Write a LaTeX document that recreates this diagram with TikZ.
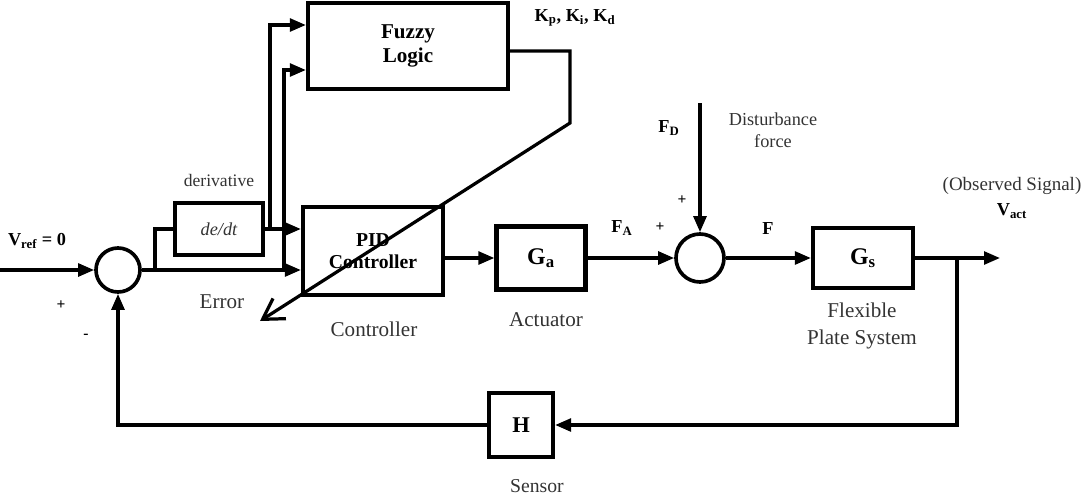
\documentclass[tikz,border=0pt]{standalone}
\usepackage{fontspec}
\setmainfont{Liberation Serif}
\usetikzlibrary{arrows.meta}
\begin{document}
\begin{tikzpicture}[x=0.025cm,y=-0.025cm,
    block/.style={draw,line width=3pt,inner sep=0pt,align=center,
      font=\bfseries\fontsize{14}{16}\selectfont},
    sum/.style={draw,circle,line width=2.6pt,minimum size=1.1cm,inner sep=0pt},
    wire/.style={line width=2.3pt},
    sig/.style={wire,-{Triangle[length=4mm,width=3.2mm]}},
    lbl/.style={text=black!80,align=center,font=\fontsize{15}{19}\selectfont},
    var/.style={font=\bfseries\fontsize{13}{15}\selectfont}]
  \useasboundingbox (0,0) rectangle (1081,495);
  % blocks
  \node[sum] (Sum1) at (118,270) {};
  \node[block,line width=2.4pt,minimum width=2.2cm,minimum height=1.3cm,
    text=black!80,font=\itshape\fontsize{13}{15}\selectfont] (Deriv) at (219,229) {de/dt};
  \node[block,minimum width=3.5cm,minimum height=2.2cm] (PID) at (373,251) {PID\\Controller};
  \node[block,minimum width=5cm,minimum height=2.15cm,
    font=\bfseries\fontsize{15}{17}\selectfont] (Fuzzy) at (408,46) {Fuzzy\\Logic};
  \node[block,minimum width=2.225cm,minimum height=1.575cm,
    font=\bfseries\fontsize{17}{19}\selectfont] (Ga) at (541,258) {G\textsubscript{a}};
  \node[sum,minimum size=1.2cm] (Sum2) at (700,258) {};
  \node[block,minimum width=2.5cm,minimum height=1.5cm,
    font=\bfseries\fontsize{17}{19}\selectfont] (Gs) at (863,258) {G\textsubscript{s}};
  \node[block,minimum width=1.6cm,minimum height=1.6cm,
    font=\bfseries\fontsize{16}{18}\selectfont] (H) at (521,425) {H};
  % branch points
  \coordinate (In) at (0,270);
  \coordinate (Br1) at (155,270);
  \coordinate (Br2) at (270,229);
  \coordinate (Br3) at (284,270);
  \coordinate (K1) at (570,51);
  \coordinate (K2) at (570,123);
  \coordinate (KTip) at (260,321);
  \coordinate (FD) at (700,103);
  \coordinate (Br4) at (957,258);
  \coordinate (Out) at (1000,258);
  % connectors
  \draw[sig] (In) -- (Sum1);
  \draw[wire] (Sum1) -- (Br1) |- (Deriv);
  \draw[sig] (Br1) -- (PID.west |- Br1);
  \draw[sig] (Deriv) -- (PID.west |- Deriv);
  \draw[sig] (Br2) |- (Fuzzy.west |- 0,25);
  \draw[sig] (Br3) |- (Fuzzy.west |- 0,70);
  \draw[wire,-{Straight Barb[length=5mm,width=6mm]}]
    (Fuzzy.east |- K1) -- (K1) -- (K2) -- (KTip);
  \draw[sig] (PID.east |- Ga) -- (Ga);
  \draw[sig] (Ga) -- (Sum2);
  \draw[sig] (FD) -- (Sum2);
  \draw[sig] (Sum2) -- (Gs);
  \draw[sig] (Gs) -- (Out);
  \draw[sig] (Br4) |- (H);
  \draw[sig] (H) -| (Sum1);
  % labels
  \node[var] (VRef) at (37,241) {V\textsubscript{ref} = 0};
  \node[var,font=\bfseries\fontsize{11}{13}\selectfont] (Plus1) at (61,305) {+};
  \node[var,font=\bfseries\fontsize{11}{13}\selectfont] (Minus1) at (86,336) {-};
  \node[lbl] (ErrLbl) at (222,302) {Error};
  \node[lbl,font=\fontsize{12.5}{15}\selectfont] (DerLbl) at (219,180) {derivative};
  \node[var] (KLbl) at (575,18) {K\textsubscript{p}, K\textsubscript{i}, K\textsubscript{d}};
  \node[lbl] (CtrlLbl) at (374,329) {Controller};
  \node[lbl] (ActLbl) at (546,320) {Actuator};
  \node[var] (FALbl) at (622,228) {F\textsubscript{A}};
  \node[var,font=\bfseries\fontsize{11}{13}\selectfont] (Plus2) at (660,227) {+};
  \node[var,font=\bfseries\fontsize{11}{13}\selectfont] (Plus3) at (682,200) {+};
  \node[var] (FDLbl) at (669,128) {F\textsubscript{D}};
  \node[lbl,font=\fontsize{13}{16}\selectfont] (DistLbl) at (773,130) {Disturbance\\force};
  \node[var] (FLbl) at (768,229) {F};
  \node[lbl,font=\fontsize{13.5}{16}\selectfont] (ObsLbl) at (1012,186) {(Observed Signal)};
  \node[var] (VLbl) at (1012,211) {V\textsubscript{act}};
  \node[lbl] (PlateLbl) at (862,326) {Flexible\\Plate System};
  \node[lbl,font=\fontsize{14}{16}\selectfont] (SensLbl) at (537,486) {Sensor};
\end{tikzpicture}
\end{document}
